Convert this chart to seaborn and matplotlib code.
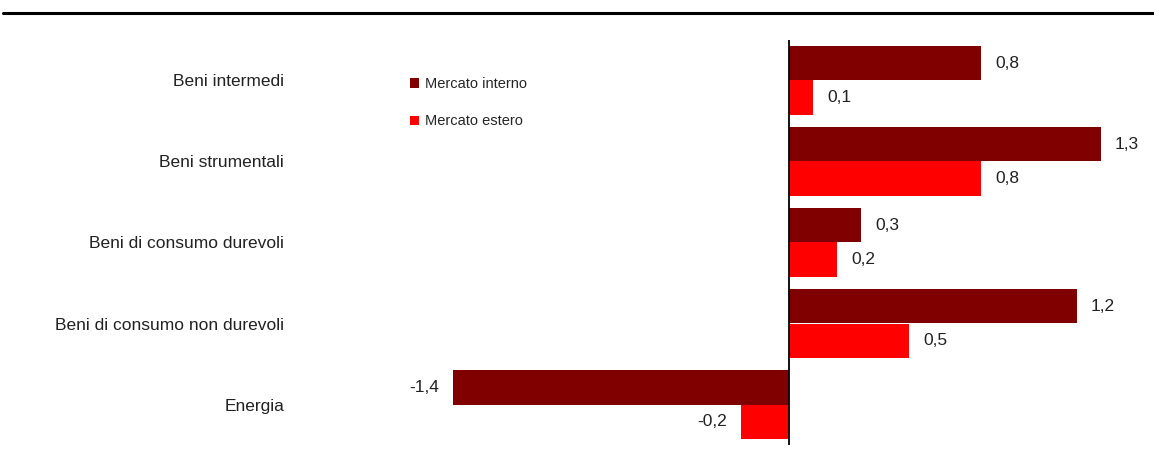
import matplotlib
matplotlib.use("Agg")
import matplotlib.pyplot as plt
from matplotlib.lines import Line2D
from matplotlib.patches import Patch
import seaborn as sns
import pandas as pd

categories = ["Beni intermedi", "Beni strumentali", "Beni di consumo durevoli",
              "Beni di consumo non durevoli", "Energia"]
series_names = ["Mercato interno", "Mercato estero"]
interno = [0.8, 1.3, 0.3, 1.2, -1.4]
estero = [0.1, 0.8, 0.2, 0.5, -0.2]
colors = ["#800000", "#FF0000"]

df = pd.DataFrame({
    "categoria": categories * 2,
    "valore": interno + estero,
    "serie": [series_names[0]] * len(categories) + [series_names[1]] * len(categories),
})

sns.set_style("white")
plt.rcParams["font.family"] = ["Liberation Sans", "DejaVu Sans"]

fig = plt.figure(figsize=(11.54, 4.61), dpi=100)
ax = fig.add_axes([309 / 1154, 1 - 445 / 461, (1149 - 309) / 1154, (445 - 40) / 461])

sns.barplot(data=df, x="valore", y="categoria", hue="serie", orient="h",
            palette=colors, width=0.84, ax=ax, legend=False, saturation=1,
            order=categories, hue_order=series_names, linewidth=0)

for cont in ax.containers:
    labels = [f"{v:.1f}".replace(".", ",") for v in cont.datavalues]
    ax.bar_label(cont, labels=labels, padding=10, fontsize=12.5, color="#222222")

ax.set_xlim(-2.0, 1.5)
ax.set_ylim(4.5, -0.5)
ax.axvline(0, color="black", lw=1.3)
for s in ax.spines.values():
    s.set_visible(False)
ax.set_xticks([])
ax.set_xlabel("")
ax.set_ylabel("")
ax.tick_params(axis="y", length=0, pad=18, labelsize=12.5, labelcolor="#222222")

fig.add_artist(Line2D([3 / 1154, 1.0], [1 - 13.5 / 461] * 2, color="black", lw=2.2))

handles = [Patch(facecolor=c, edgecolor="none") for c in colors]
leg = fig.legend(handles, series_names, loc="upper left",
                 bbox_to_anchor=(397 / 1154, 1 - 64 / 461), frameon=False,
                 fontsize=10.5, handlelength=0.6, handleheight=0.6,
                 handletextpad=0.4, labelspacing=1.6)

fig.savefig("out.png", dpi=100, facecolor="white")
